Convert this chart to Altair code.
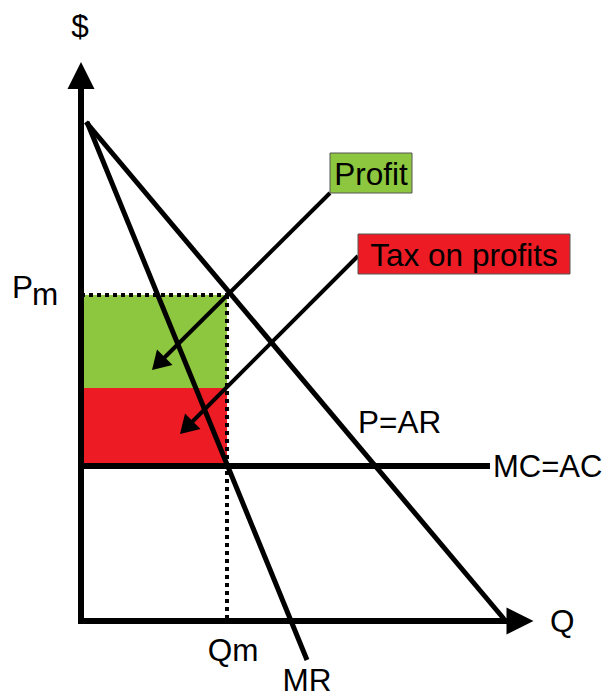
import altair as alt
import pandas as pd

# ---- diagram values (Q = quantity units, P = price units) ----
Q_M = 14.6          # monopoly output Qm
P_M = 32.6          # monopoly price Pm
MC_LEVEL = 15.5     # MC = AC
TAX_TOP = 23.3      # boundary between profit kept and tax on profits

seg_names = ["y_axis", "x_axis", "demand", "mr", "mc", "arrow_profit", "arrow_tax"]
seg_q1 = [0.0, -0.3, 0.5, 0.6, 0.0, 24.9, 27.7]
seg_p1 = [-0.3, 0.0, 49.9, 49.9, MC_LEVEL, 42.8, 36.5]
seg_q2 = [0.0, 42.8, 42.3, 22.6, 40.9, 7.6, 10.4]
seg_p2 = [53.3, 0.0, 0.2, -3.9, MC_LEVEL, 25.6, 19.2]
seg_w = [6, 6, 5, 5, 6, 4, 4]

dot_q1 = [0.0, Q_M]
dot_p1 = [P_M, P_M]
dot_q2 = [Q_M, Q_M]
dot_p2 = [P_M, 0.0]

area_names = ["Profit", "Tax on profits"]
area_q1 = [0.3, 0.3]
area_q2 = [Q_M, Q_M]
area_p1 = [TAX_TOP, MC_LEVEL]
area_p2 = [P_M, TAX_TOP]
area_colors = ["#8DC63F", "#ED1C24"]

box_labels = ["Profit", "Tax on profits"]
box_q1 = [24.9, 27.7]
box_q2 = [33.1, 48.9]
box_p1 = [42.8, 34.7]
box_p2 = [46.8, 38.7]
box_text_q = [29.0, 38.3]
box_text_p = [43.6, 35.5]

axis_head_q = [0.0, 43.9]
axis_head_p = [54.55, 0.0]
axis_head_angle = [0, 90]

arrow_head_q = [7.74, 10.54]
arrow_head_p = [25.74, 19.34]
arrow_head_angle = [225, 225]

center_labels = ["$", "Qm", "MR"]
center_q = [-0.1, 15.2, 22.6]
center_p = [58.4, -4.0, -7.0]

left_labels = ["P", "m", "Q", "P=AR"]
left_q = [-6.9, -4.9, 46.9, 27.7]
left_p = [32.3, 31.6, -1.1, 18.8]

mc_label = ["MC=AC"]
mc_label_q = [41.2]
mc_label_p = [14.4]

# ---- tables ----
segs = pd.DataFrame({"name": seg_names, "q": seg_q1, "p": seg_p1, "q2": seg_q2, "p2": seg_p2, "w": seg_w})
dots = pd.DataFrame({"q": dot_q1, "p": dot_p1, "q2": dot_q2, "p2": dot_p2})
areas = pd.DataFrame({"name": area_names, "q": area_q1, "q2": area_q2, "p": area_p1, "p2": area_p2, "c": area_colors})
boxes = pd.DataFrame({"label": box_labels, "q": box_q1, "q2": box_q2, "p": box_p1, "p2": box_p2,
                      "tq": box_text_q, "tp": box_text_p, "c": area_colors})
axis_heads = pd.DataFrame({"q": axis_head_q, "p": axis_head_p, "a": axis_head_angle})
arrow_heads = pd.DataFrame({"q": arrow_head_q, "p": arrow_head_p, "a": arrow_head_angle})
ctext = pd.DataFrame({"t": center_labels, "q": center_q, "p": center_p})
ltext = pd.DataFrame({"t": left_labels, "q": left_q, "p": left_p})
mctext = pd.DataFrame({"t": mc_label, "q": mc_label_q, "p": mc_label_p})

W, H = 595, 689
xs = alt.Scale(domain=[-7.3, -7.3 + W / 10], nice=False, zero=False)
ys = alt.Scale(domain=[(613 - H) / 10, 61.3], nice=False, zero=False)

def X(f="q"):
    return alt.X(f"{f}:Q", scale=xs, axis=None)

def Y(f="p"):
    return alt.Y(f"{f}:Q", scale=ys, axis=None)

FONT = "Liberation Sans"
FS = 31.5

area_layer = alt.Chart(areas).mark_rect().encode(
    x=X(), x2="q2", y=Y(), y2="p2", color=alt.Color("c:N", scale=None))

dot_layer = alt.Chart(dots).mark_rule(strokeWidth=4, strokeDash=[4, 4], color="black").encode(
    x=X(), y=Y(), x2="q2", y2="p2")

seg_layer = alt.Chart(segs).mark_rule(color="black").encode(
    x=X(), y=Y(), x2="q2", y2="p2", strokeWidth=alt.StrokeWidth("w:Q", scale=None))

axis_head_layer = alt.Chart(axis_heads).mark_point(
    shape="M0,-1L-1,1L1,1Z", filled=True, color="black", opacity=1, size=729, strokeWidth=0).encode(
    x=X(), y=Y(), angle=alt.Angle("a:Q", scale=None))

arrow_head_layer = alt.Chart(arrow_heads).mark_point(
    shape="M0,-1L-1.22,1L1.22,1Z", filled=True, color="black", opacity=1, size=324, strokeWidth=0).encode(
    x=X(), y=Y(), angle=alt.Angle("a:Q", scale=None))

box_layer = alt.Chart(boxes).mark_rect(stroke="#555555", strokeWidth=1).encode(
    x=X(), x2="q2", y=Y(), y2="p2", color=alt.Color("c:N", scale=None))

box_text = alt.Chart(boxes).mark_text(font=FONT, fontSize=FS, align="center", baseline="alphabetic",
                                      color="black").encode(
    x=X("tq"), y=Y("tp"), text="label:N")

ctext_layer = alt.Chart(ctext).mark_text(font=FONT, fontSize=FS, align="center", baseline="alphabetic",
                                         color="black").encode(x=X(), y=Y(), text="t:N")
ltext_layer = alt.Chart(ltext).mark_text(font=FONT, fontSize=FS, align="left", baseline="alphabetic",
                                         color="black").encode(x=X(), y=Y(), text="t:N")
mc_layer = alt.Chart(mctext).mark_text(font=FONT, fontSize=31, align="left", baseline="alphabetic",
                                       color="black").encode(x=X(), y=Y(), text="t:N")

chart = alt.layer(
    area_layer, dot_layer, seg_layer, axis_head_layer, arrow_head_layer,
    box_layer, box_text, ctext_layer, ltext_layer, mc_layer
).properties(
    width=W, height=H, autosize=alt.AutoSizeParams(type="none"), padding=0
).configure_view(stroke=None)

chart.save("out.html", embed_options={"renderer": "svg", "actions": False})
